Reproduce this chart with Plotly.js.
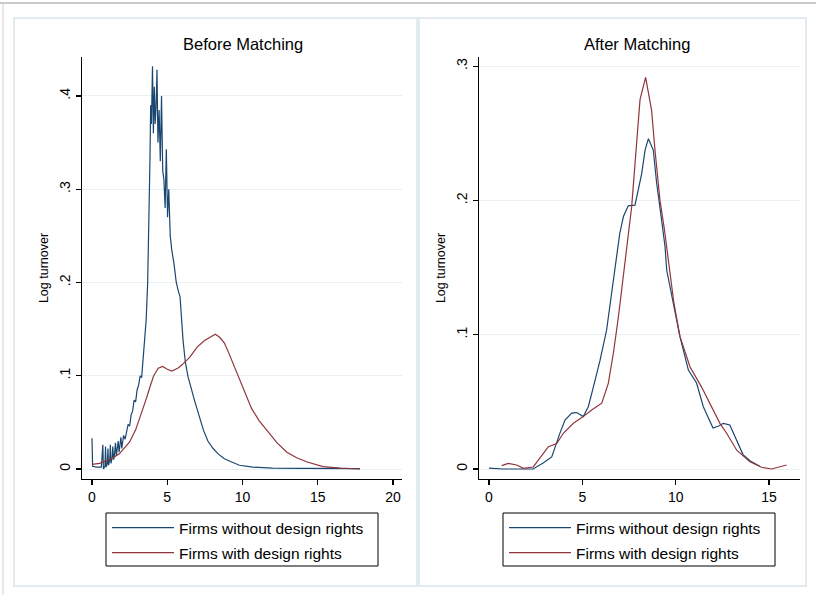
<!DOCTYPE html>
<html><head><meta charset="utf-8">
<script src="https://cdn.plot.ly/plotly-3.0.1.min.js"></script>
<style>html,body{margin:0;padding:0;background:#fff}#chart{width:816px;height:595px}</style>
</head><body><div id="chart"></div>
<script>
// ---- Data: Before Matching ----
const beforeNoX = [0,0.04,0.3,0.62,0.72,0.76,0.86,0.9,0.94,1.02,1.06,1.1,1.18,1.22,1.26,1.34,1.38,1.44,1.5,1.56,1.62,1.68,1.74,1.8,1.86,1.92,1.98,2.04,2.1,2.2,2.3,2.4,2.5,2.6,2.7,2.8,2.9,3.0,3.1,3.2,3.3,3.4,3.5,3.6,3.7,3.78,3.85,3.9,3.95,4.02,4.08,4.14,4.2,4.26,4.32,4.38,4.46,4.54,4.62,4.7,4.78,4.86,4.94,5.02,5.1,5.2,5.3,5.45,5.6,5.75,5.85,6.05,6.2,6.38,6.6,6.84,7.1,7.4,7.7,8.05,8.4,8.8,9.2,9.8,10.7,12,14,16,17.8];
const beforeNoY = [0.033,0.003,0.002,0.002,0.026,0.0,0.003,0.024,0.002,0.006,0.022,0.004,0.01,0.026,0.006,0.012,0.024,0.01,0.016,0.028,0.014,0.022,0.03,0.018,0.026,0.034,0.022,0.03,0.036,0.032,0.042,0.048,0.046,0.058,0.062,0.074,0.072,0.085,0.09,0.1,0.098,0.12,0.135,0.16,0.2,0.26,0.33,0.39,0.37,0.432,0.36,0.41,0.37,0.39,0.428,0.35,0.385,0.33,0.40,0.32,0.31,0.28,0.343,0.27,0.30,0.25,0.235,0.22,0.2,0.19,0.185,0.138,0.115,0.099,0.085,0.072,0.058,0.042,0.03,0.022,0.016,0.011,0.008,0.004,0.002,0.001,0.0008,0.0006,0.0005];
const beforeWithX = [0,0.5,1.0,1.4,1.8,2.2,2.5,2.9,3.3,3.6,3.85,4.1,4.4,4.7,5.0,5.3,5.7,6.0,6.5,7.0,7.5,8.0,8.2,8.5,8.8,9.1,9.5,10.0,10.6,11.1,11.6,12.3,12.95,13.6,14.3,15.35,16.5,17.8];
const beforeWithY = [0.005,0.006,0.009,0.012,0.016,0.023,0.029,0.042,0.06,0.075,0.088,0.1,0.108,0.11,0.107,0.105,0.108,0.112,0.12,0.131,0.138,0.143,0.1445,0.141,0.135,0.124,0.108,0.088,0.065,0.052,0.042,0.028,0.018,0.012,0.0075,0.0025,0.001,0.0];
// ---- Data: After Matching ----
const afterNoX = [0,0.75,1.5,2.36,2.9,3.36,3.8,4.07,4.43,4.7,5.05,5.32,5.59,5.95,6.3,6.57,6.75,6.84,7.0,7.2,7.46,7.82,7.95,8.18,8.36,8.54,8.8,8.98,9.25,9.43,9.52,9.87,10.23,10.68,11.12,11.48,12.0,12.3,12.55,12.9,13.27,13.62,14.0,14.34,14.5];
const afterNoY = [0.0007,0.0,0.0,0.0,0.0045,0.009,0.0267,0.0365,0.0416,0.042,0.039,0.0464,0.061,0.081,0.1035,0.131,0.148,0.158,0.175,0.188,0.196,0.1965,0.205,0.22,0.2375,0.246,0.2375,0.213,0.185,0.1655,0.148,0.1235,0.0985,0.0737,0.064,0.0464,0.0305,0.032,0.034,0.0328,0.0216,0.0104,0.006,0.003,0.002];
const afterWithX = [0.68,1.03,1.48,1.84,2.37,2.73,3.18,3.63,3.98,4.52,5.05,5.5,6.04,6.39,6.66,6.93,7.2,7.37,7.64,7.91,8.09,8.39,8.71,8.89,9.16,9.4,9.65,9.9,10.23,10.77,11.39,11.93,12.37,12.73,13.27,13.98,14.6,15.14,15.6,15.94];
const afterWithY = [0.0025,0.0042,0.003,0.0005,0.0015,0.008,0.0166,0.019,0.0266,0.034,0.039,0.044,0.049,0.0638,0.086,0.113,0.143,0.161,0.195,0.243,0.275,0.2917,0.267,0.2375,0.2,0.178,0.152,0.124,0.0985,0.076,0.061,0.046,0.034,0.0266,0.014,0.0054,0.0013,0.0,0.0017,0.003];

const leftXTicks = [0,5,10,15,20];
const leftYTicks = [0,0.1,0.2,0.3,0.4];
const leftYLabels = ['0','.1','.2','.3','.4'];
const rightXTicks = [0,5,10,15];
const rightYTicks = [0,0.1,0.2,0.3];
const rightYLabels = ['0','.1','.2','.3'];
const seriesNames = ['Firms without design rights','Firms with design rights'];
const panelTitles = ['Before Matching','After Matching'];

const W = 816, H = 595;
const BLUE = '#1a476f', RED = '#90353b';
const FONT = 'Liberation Sans, Arial, Helvetica, sans-serif';

const traces = [
  {x: beforeNoX, y: beforeNoY, name: seriesNames[0], mode:'lines', line:{color:BLUE,width:1.2}, xaxis:'x', yaxis:'y', legend:'legend', legendgroup:'a1'},
  {x: beforeWithX, y: beforeWithY, name: seriesNames[1], mode:'lines', line:{color:RED,width:1.2}, xaxis:'x', yaxis:'y', legend:'legend', legendgroup:'a2'},
  {x: afterNoX, y: afterNoY, name: seriesNames[0], mode:'lines', line:{color:BLUE,width:1.2}, xaxis:'x2', yaxis:'y2', legend:'legend2', legendgroup:'b1'},
  {x: afterWithX, y: afterWithY, name: seriesNames[1], mode:'lines', line:{color:RED,width:1.2}, xaxis:'x2', yaxis:'y2', legend:'legend2', legendgroup:'b2'}
];

const axCommon = {ticks:'outside', ticklen:5, tickwidth:1.2, tickcolor:'#000', showline:true, linecolor:'#000', linewidth:1.3, zeroline:false, tickfont:{size:14, color:'#000'}, fixedrange:true};
const yCommon = Object.assign({}, axCommon, {showgrid:true, gridcolor:'#e9f0f3', gridwidth:1, tickangle:-90,
  title:{text:'Log turnover', font:{size:12.5, color:'#000'}, standoff:5}});

const legCommon = {bgcolor:'rgba(0,0,0,0)', borderwidth:0, font:{size:15.5, color:'#000', family:FONT}, xanchor:'left', yanchor:'top', traceorder:'grouped', tracegroupgap:2, itemwidth:62};

// legend frame positions (px): [left, top, right, bottom]
const legBoxL = [106, 513, 378, 566];
const legBoxR = [503, 513, 775, 566];
const boxShape = b => ({type:'rect', xref:'paper', yref:'paper', x0:b[0]/W, x1:b[2]/W, y0:1-b[3]/H, y1:1-b[1]/H, line:{color:'#000', width:1}, fillcolor:'rgba(0,0,0,0)', layer:'below'});

const layout = {
  width: W, height: H, margin:{l:0,r:0,t:0,b:0},
  paper_bgcolor:'#fff', plot_bgcolor:'rgba(0,0,0,0)',
  font:{family:FONT, color:'#000'},
  showlegend:true,
  xaxis: Object.assign({}, axCommon, {domain:[82/W,402/W], range:[-0.664,20.6], tickvals:leftXTicks, showgrid:false, anchor:'y'}),
  yaxis: Object.assign({}, yCommon, {domain:[1-479/H,1-57/H], range:[-0.0107,0.4418], tickvals:leftYTicks, ticktext:leftYLabels, anchor:'x'}),
  xaxis2: Object.assign({}, axCommon, {domain:[479/W,800/W], range:[-0.536,16.66], tickvals:rightXTicks, showgrid:false, anchor:'y2'}),
  yaxis2: Object.assign({}, yCommon, {domain:[1-479/H,1-57/H], range:[-0.00745,0.3068], tickvals:rightYTicks, ticktext:rightYLabels, anchor:'x2'}),
  legend: Object.assign({}, legCommon, {x:107/W, y:1-511/H}),
  legend2: Object.assign({}, legCommon, {x:504/W, y:1-511/H}),
  annotations: [
    {text:panelTitles[0], xref:'paper', yref:'paper', x:243/W, y:1-44/H, xanchor:'center', yanchor:'middle', showarrow:false, font:{size:16.5, color:'#000'}},
    {text:panelTitles[1], xref:'paper', yref:'paper', x:637/W, y:1-44/H, xanchor:'center', yanchor:'middle', showarrow:false, font:{size:16.5, color:'#000'}}
  ],
  shapes: [
    {type:'line', xref:'paper', yref:'paper', x0:0, x1:1, y0:1-3/H, y1:1-3/H, line:{color:'#b8b8b8', width:1.5}, layer:'below'},
    {type:'line', xref:'paper', yref:'paper', x0:3/W, x1:3/W, y0:0, y1:1-3/H, line:{color:'#d0d0d0', width:1}, layer:'below'},
    {type:'rect', xref:'paper', yref:'paper', x0:14/W, x1:417/W, y0:1-586/H, y1:1-18/H, line:{color:'#e2ebef', width:2}, fillcolor:'#fff', layer:'below'},
    {type:'rect', xref:'paper', yref:'paper', x0:419/W, x1:806/W, y0:1-586/H, y1:1-18/H, line:{color:'#e2ebef', width:2}, fillcolor:'#fff', layer:'below'},
    boxShape(legBoxL), boxShape(legBoxR)
  ]
};

Plotly.newPlot('chart', traces, layout, {staticPlot:true, displayModeBar:false});
</script></body></html>
